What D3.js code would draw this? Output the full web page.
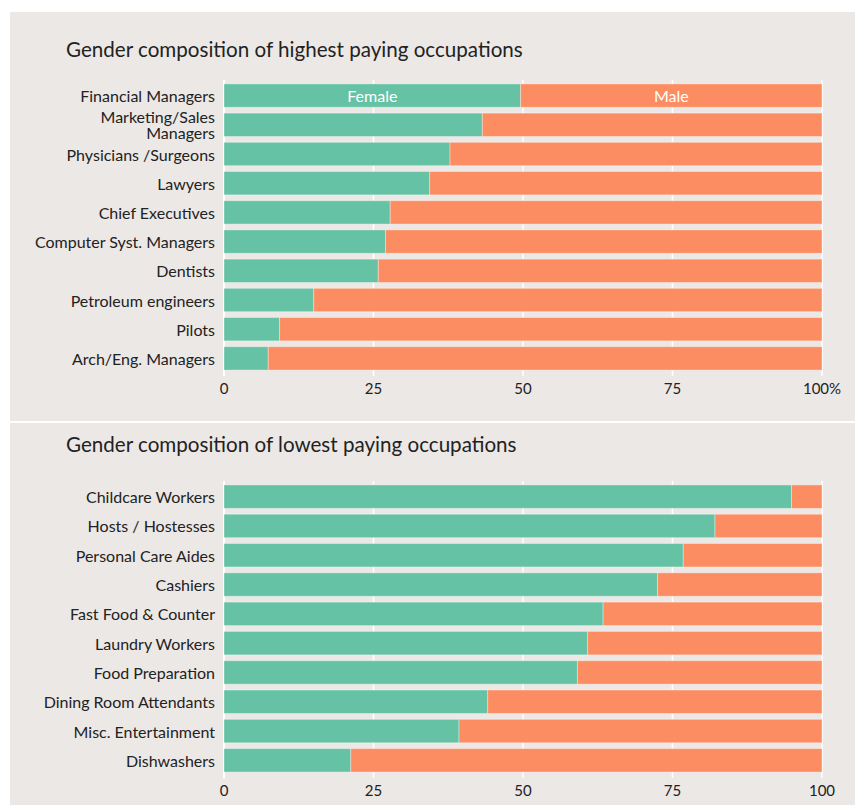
<!DOCTYPE html>
<html>
<head>
<meta charset="utf-8">
<script src="https://cdn.jsdelivr.net/npm/d3@7"></script>
<style>
  html, body { margin: 0; padding: 0; background: #ffffff; }
  svg { display: block; font-family: Lato, "Open Sans", sans-serif; }
</style>
</head>
<body>
<svg id="chart" width="855" height="805"></svg>
<script>
// ---- data ----
const highTitle = "Gender composition of highest paying occupations";
const highCategories = ["Financial Managers", "Marketing/Sales Managers", "Physicians /Surgeons", "Lawyers",
  "Chief Executives", "Computer Syst. Managers", "Dentists", "Petroleum engineers", "Pilots", "Arch/Eng. Managers"];
const highFemale = [49.6, 43.2, 37.8, 34.4, 27.8, 27.0, 25.8, 15.0, 9.3, 7.4];

const lowTitle = "Gender composition of lowest paying occupations";
const lowCategories = ["Childcare Workers", "Hosts / Hostesses", "Personal Care Aides", "Cashiers",
  "Fast Food & Counter", "Laundry Workers", "Food Preparation", "Dining Room Attendants", "Misc. Entertainment", "Dishwashers"];
const lowFemale = [94.9, 82.1, 76.8, 72.5, 63.4, 60.8, 59.1, 44.1, 39.3, 21.2];

const tickValues = [0, 25, 50, 75, 100];
const highTickLabels = ["0", "25", "50", "75", "100%"];
const lowTickLabels = ["0", "25", "50", "75", "100"];
const seriesNames = ["Female", "Male"];
const colors = { Female: "#66c2a5", Male: "#fc8d62" };

// ---- drawing ----
const svg = d3.select("#chart");
const bg = "#ece8e6";

function wrap(textSel, width) {
  textSel.each(function () {
    const text = d3.select(this);
    const words = text.text().split(/\s+/);
    const x = text.attr("x");
    text.text(null);
    let lines = [[]];
    const probe = text.append("tspan").attr("x", x);
    words.forEach(w => {
      const cur = lines[lines.length - 1];
      probe.text(cur.concat([w]).join(" "));
      if (probe.node().getComputedTextLength() > width && cur.length) lines.push([w]);
      else cur.push(w);
    });
    probe.remove();
    const lh = 16;
    const offset = -(lines.length - 1) * lh / 2;
    lines.forEach((ln, i) => {
      text.append("tspan").attr("x", x).attr("y", 0)
        .attr("dy", (offset + i * lh) + "px")
        .attr("dominant-baseline", "central")
        .text(ln.join(" "));
    });
  });
}

function panel(cfg) {
  const g = svg.append("g");
  g.append("rect").attr("x", cfg.px).attr("y", cfg.py).attr("width", cfg.pw).attr("height", cfg.ph).attr("fill", bg);

  g.append("text").attr("x", 66).attr("y", cfg.titleY)
    .attr("font-size", "20.6px").attr("fill", "#222").text(cfg.title);

  const x = d3.scaleLinear().domain([0, 100]).range([224, 822]);
  const y = d3.scaleBand().domain(cfg.categories).range(cfg.yRange).paddingInner(0.2).paddingOuter(0.1);

  const [y0, y1] = cfg.yRange;
  // grid lines
  g.append("g").selectAll("line").data(tickValues).join("line")
    .attr("x1", d => x(d)).attr("x2", d => x(d))
    .attr("y1", y0 - 1).attr("y2", y1 + 3)
    .attr("stroke", "#ffffff").attr("stroke-width", d => d === 0 ? 2 : 1.5);

  const rows = cfg.categories.map((c, i) => ({ cat: c, female: cfg.female[i] }));
  const stack = d3.stack().keys(seriesNames)(rows.map(r => ({ cat: r.cat, Female: r.female, Male: 100 - r.female })));

  g.append("g").selectAll("g").data(stack).join("g")
    .attr("fill", d => colors[d.key])
    .selectAll("rect").data(d => d).join("rect")
      .attr("x", d => x(d[0])).attr("width", d => x(d[1]) - x(d[0]))
      .attr("y", d => y(d.data.cat)).attr("height", y.bandwidth())
      .attr("stroke", "#ffffff").attr("stroke-opacity", 0.35).attr("stroke-width", 1);

  // category labels
  g.append("g").selectAll("text").data(cfg.categories).join("text")
    .attr("transform", d => `translate(0,${y(d) + y.bandwidth() / 2})`)
    .attr("x", 215).attr("text-anchor", "end")
    .attr("font-size", "16px").attr("fill", "#222")
    .text(d => d)
    .call(wrap, 183);

  // tick labels
  g.append("g").selectAll("text").data(tickValues).join("text")
    .attr("x", d => x(d)).attr("y", y1 + 15)
    .attr("text-anchor", "middle").attr("dominant-baseline", "central")
    .attr("font-size", "15px").attr("fill", "#222")
    .text((d, i) => cfg.tickLabels[i]);

  if (cfg.legend) {
    const first = stack.map(s => s[0]);
    g.append("g").selectAll("text").data(first).join("text")
      .attr("x", d => x((d[0] + d[1]) / 2)).attr("y", d => y(d.data.cat) + y.bandwidth() / 2)
      .attr("text-anchor", "middle").attr("dominant-baseline", "central")
      .attr("font-size", "16px").attr("fill", "#ffffff")
      .text((d, i) => seriesNames[i]);
  }
}

panel({ px: 10, py: 12, pw: 845, ph: 409, title: highTitle, titleY: 57,
  categories: highCategories, female: highFemale, yRange: [81, 373], tickLabels: highTickLabels, legend: true });
panel({ px: 10, py: 423, pw: 845, ph: 382, title: lowTitle, titleY: 452,
  categories: lowCategories, female: lowFemale, yRange: [482, 775], tickLabels: lowTickLabels, legend: false });
</script>
</body>
</html>
